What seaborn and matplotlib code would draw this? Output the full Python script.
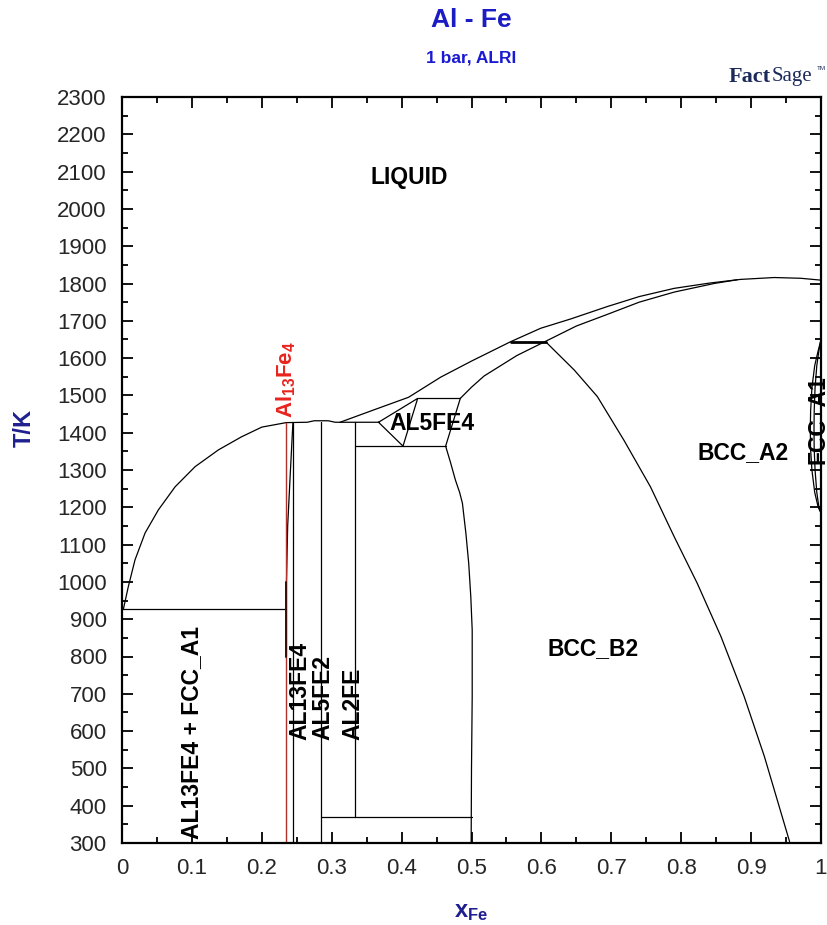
import matplotlib
matplotlib.use("Agg")
import matplotlib.pyplot as plt
import pandas as pd
import seaborn as sns
from matplotlib.ticker import MultipleLocator, FixedLocator, FixedFormatter

sns.set_style("ticks")
plt.rcParams["font.family"] = ["Liberation Sans", "DejaVu Sans"]
plt.rcParams["mathtext.fontset"] = "custom"
plt.rcParams["mathtext.rm"] = "Liberation Sans"
plt.rcParams["mathtext.bf"] = "Liberation Sans:bold"
plt.rcParams["mathtext.it"] = "Liberation Sans:italic"

# ---- phase boundaries: x = mole fraction Fe, T in K ----
liq_al_x = [0.0, 0.002, 0.009, 0.0186, 0.033, 0.052, 0.076, 0.1046, 0.138, 0.171, 0.200, 0.229, 0.2345]
liq_al_T = [933, 927, 987, 1059, 1131, 1193, 1255, 1309, 1354, 1389, 1415, 1425, 1427]

eut_x = [0.0, 0.2345]
eut_T = [927, 927]

al13fe4_left_x = [0.2445, 0.241, 0.237, 0.2353, 0.2353]
al13fe4_left_T = [1427, 1300, 1150, 1000, 800]
al13fe4_right_x = [0.2445, 0.2445]
al13fe4_right_T = [1427, 300]

top_flat_x = [0.2345, 0.265, 0.275, 0.295, 0.305, 0.367]
top_flat_T = [1427, 1428, 1432, 1432, 1428, 1428]

al5fe2_x = [0.285, 0.285]
al5fe2_T = [1428, 300]
al2fe_x = [0.334, 0.334]
al2fe_T = [1428, 369]
low_line_x = [0.285, 0.5]
low_line_T = [369, 369]

al5fe4_bottom_x = [0.334, 0.463]
al5fe4_bottom_T = [1364, 1364]
al5fe4_tri_x = [0.367, 0.423, 0.402, 0.367]
al5fe4_tri_T = [1428, 1492, 1364, 1428]
al5fe4_top_x = [0.423, 0.484]
al5fe4_top_T = [1492, 1492]

b2_left_x = [0.484, 0.463, 0.470, 0.477, 0.483, 0.487, 0.492, 0.496, 0.499, 0.501, 0.501, 0.500, 0.4995]
b2_left_T = [1492, 1364, 1320, 1273, 1240, 1211, 1130, 1050, 960, 871, 692, 500, 300]

sol_x = [0.484, 0.500, 0.518, 0.565, 0.606, 0.650, 0.694, 0.740, 0.790, 0.847, 0.880]
sol_T = [1492, 1522, 1552, 1607, 1645, 1686, 1717, 1750, 1777, 1800, 1810]

liq_fe_x = [0.312, 0.360, 0.410, 0.456, 0.500, 0.556, 0.599, 0.642, 0.694, 0.740, 0.790, 0.840, 0.885, 0.933, 0.971, 1.0]
liq_fe_T = [1428, 1461, 1495, 1549, 1592, 1644, 1680, 1705, 1738, 1765, 1787, 1801, 1811, 1816, 1814, 1809]

b2_a2_x = [0.606, 0.647, 0.680, 0.718, 0.756, 0.790, 0.823, 0.857, 0.890, 0.919, 0.955]
b2_a2_T = [1644, 1568, 1497, 1380, 1255, 1121, 996, 853, 693, 532, 304]

gamma_out_x = [1.0, 0.996, 0.991, 0.987, 0.9852, 0.9847, 0.985, 0.987, 0.991, 0.996, 1.0]
gamma_out_T = [1649, 1620, 1580, 1520, 1460, 1415, 1360, 1300, 1240, 1200, 1185]
gamma_in_x = [1.0, 0.997, 0.994, 0.9915, 0.9903, 0.9900, 0.9902, 0.9915, 0.994, 0.997, 1.0]
gamma_in_T = [1649, 1620, 1580, 1520, 1460, 1415, 1360, 1300, 1240, 1200, 1185]

# invariant at ~1644 K (drawn heavier)
inv_x = [0.556, 0.606]
inv_T = [1644, 1644]

# stoichiometric Al13Fe4 marker
al13fe4_stoich_x = [4 / 17, 4 / 17]
al13fe4_stoich_T = [300, 1427]

curves = {
    "liq_al": (liq_al_x, liq_al_T),
    "eutectic": (eut_x, eut_T),
    "al13fe4_left": (al13fe4_left_x, al13fe4_left_T),
    "al13fe4_right": (al13fe4_right_x, al13fe4_right_T),
    "top_flat": (top_flat_x, top_flat_T),
    "al5fe2": (al5fe2_x, al5fe2_T),
    "al2fe": (al2fe_x, al2fe_T),
    "low_line": (low_line_x, low_line_T),
    "al5fe4_bottom": (al5fe4_bottom_x, al5fe4_bottom_T),
    "al5fe4_tri": (al5fe4_tri_x, al5fe4_tri_T),
    "al5fe4_top": (al5fe4_top_x, al5fe4_top_T),
    "b2_left": (b2_left_x, b2_left_T),
    "solidus": (sol_x, sol_T),
    "liq_fe": (liq_fe_x, liq_fe_T),
    "b2_a2": (b2_a2_x, b2_a2_T),
    "gamma_out": (gamma_out_x, gamma_out_T),
    "gamma_in": (gamma_in_x, gamma_in_T),
}

rows = []
for name, (xs, ts) in curves.items():
    for i, (xv, tv) in enumerate(zip(xs, ts)):
        rows.append((name, i, xv, tv))
df = pd.DataFrame(rows, columns=["curve", "order", "x", "T"])

# ---- region labels ----
lab_text = ["LIQUID", "AL5FE4", "BCC_A2", "BCC_B2", "AL13FE4 + FCC_A1",
            "AL13FE4", "AL5FE2", "AL2FE", "FCC_A1"]
lab_x = [0.411, 0.444, 0.889, 0.674, 0.099, 0.255, 0.288, 0.331, 0.9943]
lab_T = [2083, 1425, 1347, 820, 595, 576, 576, 576, 1434]
lab_rot = [0, 0, 0, 0, 90, 90, 90, 90, 90]
lab_va = ["center", "center", "center", "center", "center", "bottom", "bottom", "bottom", "center"]

x_ticks = [0, 0.1, 0.2, 0.3, 0.4, 0.5, 0.6, 0.7, 0.8, 0.9, 1.0]
x_tick_labels = ["0", "0.1", "0.2", "0.3", "0.4", "0.5", "0.6", "0.7", "0.8", "0.9", "1"]
y_ticks = list(range(300, 2301, 100))

W, H = 827, 925
fig = plt.figure(figsize=(W / 100, H / 100), dpi=100)
ax = fig.add_axes([122 / W, (H - 843) / H, (821 - 122) / W, (843 - 97) / H])

sns.lineplot(data=df, x="x", y="T", units="curve", estimator=None, sort=False,
             color="black", lw=0.9, ax=ax, legend=False)
sns.lineplot(x=inv_x, y=inv_T, color="black", lw=2.0, ax=ax, legend=False)
sns.lineplot(x=al13fe4_stoich_x, y=al13fe4_stoich_T, estimator=None, sort=False,
             color="#b0322a", lw=1.0, ax=ax, legend=False)
# lower part of the Al13Fe4 phase boundary sits over the marker
ax.plot(al13fe4_left_x[-2:], al13fe4_left_T[-2:], color="#3a0c0c", lw=1.4)

for t, xv, tv, r, va in zip(lab_text, lab_x, lab_T, lab_rot, lab_va):
    ax.text(xv, tv, t, rotation=r, ha="center", va=va, fontsize=16.5,
            fontweight="bold", color="black", clip_on=False)

ax.text(4 / 17, 1439, r"$\mathbf{Al_{13}Fe_{4}}$", rotation=90, ha="center", va="bottom",
        fontsize=16, color="#e8231e")

ax.set_xlim(0, 1)
ax.set_ylim(300, 2300)
ax.xaxis.set_major_locator(FixedLocator(x_ticks))
ax.xaxis.set_major_formatter(FixedFormatter(x_tick_labels))
ax.xaxis.set_minor_locator(MultipleLocator(0.05))
ax.yaxis.set_major_locator(FixedLocator(y_ticks))
ax.yaxis.set_minor_locator(MultipleLocator(50))
ax.tick_params(which="both", direction="in", top=True, right=True,
               labeltop=False, labelright=False, width=1.3, color="black")
ax.tick_params(which="major", length=8, labelsize=16, pad=11)
ax.tick_params(which="minor", length=4.5)
for s in ax.spines.values():
    s.set_linewidth(1.6)
    s.set_color("black")
ax.set_xlabel("")
ax.set_ylabel("")

# axis titles
fig.text(24 / W, 1 - 428 / H, "T/K", rotation=90, ha="center", va="center",
         fontsize=17, fontweight="bold", color="#1f1f8f")
fig.text(471 / W, 1 - 912 / H, r"$\mathbf{x_{Fe}}$", ha="center", va="center",
         fontsize=17, color="#1f1f8f")

# headings
fig.text(471 / W, 1 - 20 / H, "Al - Fe", ha="center", va="center",
         fontsize=19, fontweight="bold", color="#1c1cc4")
fig.text(471 / W, 1 - 58 / H, "1 bar, ALRI", ha="center", va="center",
         fontsize=12.5, fontweight="bold", color="#1a1ad2")

# FactSage mark
fig.text(771 / W, 1 - 77 / H, "Fact", ha="right", va="center", fontsize=16,
         fontweight="bold", family="Liberation Serif", color="#1b2a5a")
fig.text(772 / W, 1 - 77 / H, "Sage", ha="left", va="center", fontsize=15,
         family="Liberation Serif", color="#1b2a5a")
fig.text(817 / W, 1 - 68 / H, "TM", ha="left", va="center", fontsize=4.5,
         family="Liberation Sans", color="#1b2a5a")

fig.savefig("out.png", dpi=100, facecolor="white")
